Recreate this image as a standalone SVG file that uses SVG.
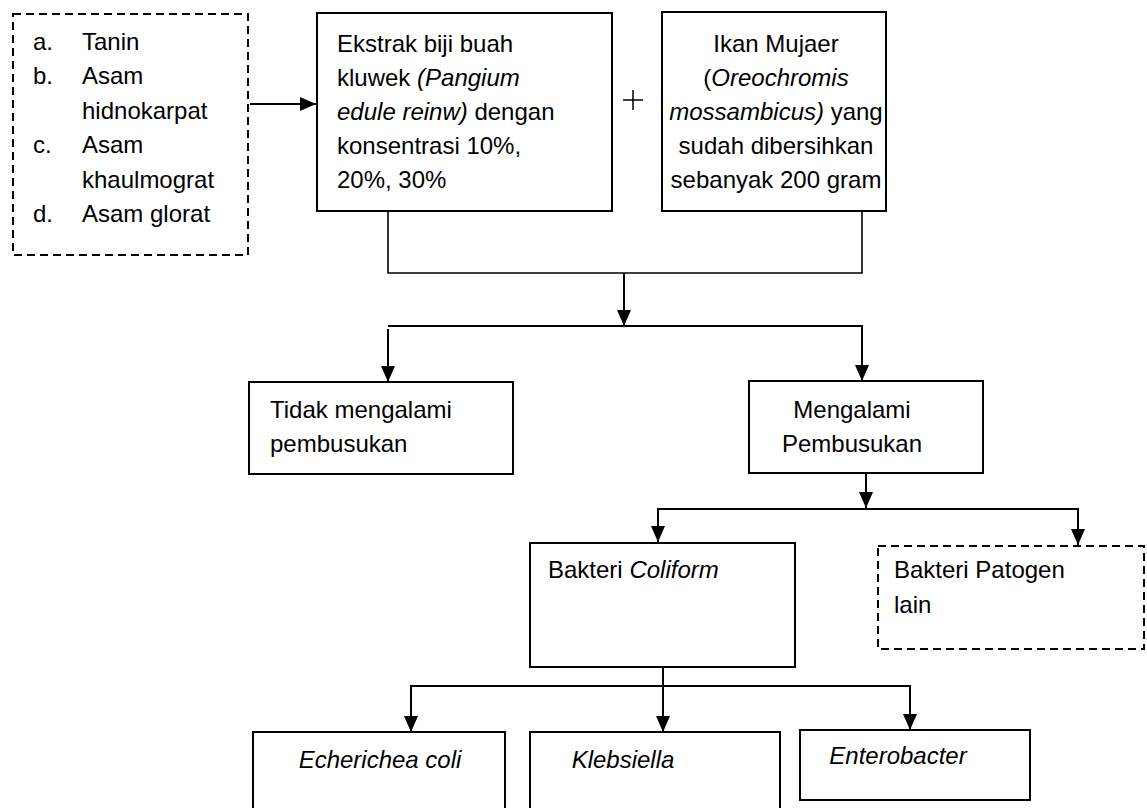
<svg xmlns="http://www.w3.org/2000/svg" width="1147" height="808" viewBox="0 0 1147 808">
<defs>
<marker id="ah" markerUnits="userSpaceOnUse" markerWidth="16" markerHeight="14" refX="16" refY="7" orient="auto" viewBox="0 0 16 14">
<path d="M0,0 L16,7 L0,14 Z" fill="#000"/>
</marker>
</defs>
<style>
.box{fill:#fff;stroke:#000;stroke-width:2}
.dash{fill:#fff;stroke:#000;stroke-width:2;stroke-dasharray:8 5}
.t{font-family:"Liberation Sans",Arial,sans-serif;font-size:24px;fill:#000}
.c{text-anchor:middle}
.i{font-style:italic}
.ln{fill:none;stroke:#000;stroke-width:2}
.ar{fill:none;stroke:#000;stroke-width:2;marker-end:url(#ah)}
</style>
<rect width="1147" height="808" fill="#fff"/>

<g id="zat">
<rect class="dash" x="13" y="14" width="235" height="241"/>
<text class="t" x="33" y="50">a.</text><text class="t" x="82" y="50">Tanin</text>
<text class="t" x="33" y="84">b.</text><text class="t" x="82" y="84">Asam</text>
<text class="t" x="82" y="119">hidnokarpat</text>
<text class="t" x="33" y="153">c.</text><text class="t" x="82" y="153">Asam</text>
<text class="t" x="82" y="188">khaulmograt</text>
<text class="t" x="33" y="222">d.</text><text class="t" x="82" y="222">Asam glorat</text>
</g>

<g id="ekstrak">
<rect class="box" x="317" y="13" width="295" height="198"/>
<text class="t" x="337" y="52">Ekstrak biji buah</text>
<text class="t" x="337" y="86">kluwek <tspan class="i">(Pangium</tspan></text>
<text class="t" x="337" y="120"><tspan class="i">edule reinw)</tspan> dengan</text>
<text class="t" x="337" y="154">konsentrasi 10%,</text>
<text class="t" x="337" y="188">20%, 30%</text>
</g>

<g id="plus">
<path class="ln" d="M623,100 H643 M633,90 V110" style="stroke-width:1.5"/>
</g>

<g id="ikan">
<rect class="box" x="662" y="12" width="224" height="199"/>
<text class="t c" x="776" y="52">Ikan Mujaer</text>
<text class="t c" x="776" y="86">(<tspan class="i">Oreochromis</tspan></text>
<text class="t c" x="776" y="120"><tspan class="i">mossambicus)</tspan> yang</text>
<text class="t c" x="776" y="154">sudah dibersihkan</text>
<text class="t c" x="776" y="188">sebanyak 200 gram</text>
</g>

<g id="tidak">
<rect class="box" x="249" y="382" width="264" height="92"/>
<text class="t" x="270" y="418">Tidak mengalami</text>
<text class="t" x="270" y="452">pembusukan</text>
</g>

<g id="mengalami">
<rect class="box" x="749" y="381" width="234" height="92"/>
<text class="t c" x="852" y="418">Mengalami</text>
<text class="t c" x="852" y="452">Pembusukan</text>
</g>

<g id="coliform">
<rect class="box" x="530" y="543" width="265" height="124"/>
<text class="t" x="548" y="578">Bakteri <tspan class="i">Coliform</tspan></text>
</g>

<g id="patogen">
<rect class="dash" x="878" y="546" width="266" height="103"/>
<text class="t" x="894" y="578">Bakteri Patogen</text>
<text class="t" x="894" y="613">lain</text>
</g>

<g id="ecoli">
<rect class="box" x="253" y="732" width="252" height="90"/>
<text class="t c i" x="380" y="768">Echerichea coli</text>
</g>

<g id="klebsiella">
<rect class="box" x="530" y="732" width="250" height="90"/>
<text class="t c i" x="623" y="768">Klebsiella</text>
</g>

<g id="enterobacter">
<rect class="box" x="800" y="730" width="230" height="70"/>
<text class="t c i" x="898" y="764">Enterobacter</text>
</g>

<g id="connectors">
<path class="ar" d="M250,104 H316"/>
<path class="ln" d="M388,211 V273 H862 V211" style="stroke-width:1.6"/>
<path class="ar" d="M624,273 V326"/>
<path class="ln" d="M388,326 H862 V340"/>
<path class="ar" d="M388,329 V382"/>
<path class="ar" d="M862,330 V381"/>
<path class="ar" d="M866,473 V508"/>
<path class="ln" d="M658,520 V509 H1078 V520"/>
<path class="ar" d="M658,509 V542"/>
<path class="ar" d="M1078,509 V545"/>
<path class="ar" d="M663,667 V732"/>
<path class="ln" d="M411,700 V686 H910 V700"/>
<path class="ar" d="M411,686 V732"/>
<path class="ar" d="M910,686 V730"/>
</g>
</svg>
